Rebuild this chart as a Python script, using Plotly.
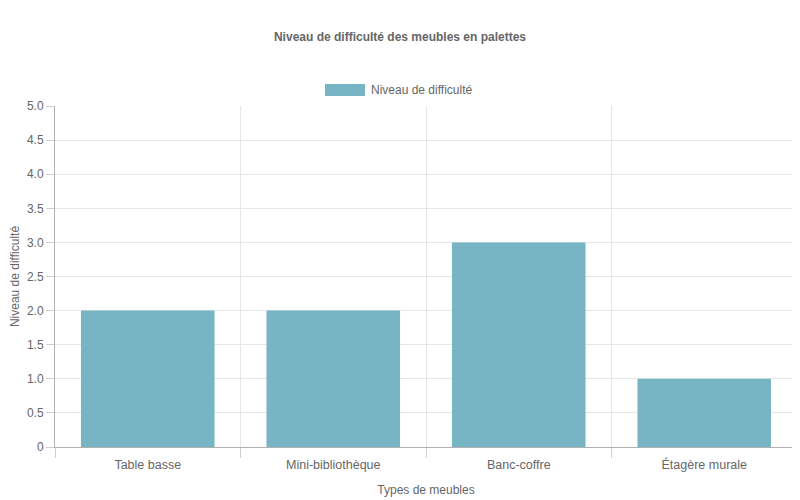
import plotly.graph_objects as go

# data
categories = ["Table basse", "Mini-bibliothèque", "Banc-coffre", "Étagère murale"]
difficulty = [2, 2, 3, 1]
y_ticks = [0, 0.5, 1.0, 1.5, 2.0, 2.5, 3.0, 3.5, 4.0, 4.5, 5.0]
y_tick_labels = ["0", "0.5", "1.0", "1.5", "2.0", "2.5", "3.0", "3.5", "4.0", "4.5", "5.0"]

BAR_COLOR = "#77b5c4"
TEXT_COLOR = "#666666"
GRID_COLOR = "#e6e6e6"
FONT = "Liberation Sans, Arial, sans-serif"


def main():
    fig = go.Figure()
    fig.add_trace(go.Bar(
        x=categories,
        y=difficulty,
        name="Niveau de difficulté",
        marker=dict(color=BAR_COLOR, line=dict(width=0)),
        showlegend=False,
    ))

    # legend drawn by hand to get the wide chart-style swatch
    fig.add_shape(type="rect", xref="paper", yref="paper",
                  x0=(325 - 55) / 742, x1=(365 - 55) / 742,
                  y0=(447 - 96) / 341, y1=(447 - 84) / 341,
                  fillcolor=BAR_COLOR, line=dict(width=0))
    fig.add_annotation(text="Niveau de difficulté", xref="paper", yref="paper",
                       x=(369 - 55) / 742, y=(447 - 90) / 341,
                       xanchor="left", yanchor="middle", showarrow=False,
                       font=dict(size=12, color=TEXT_COLOR, family=FONT))

    # page body adds an 8px offset, margins compensate for it
    fig.update_layout(
        width=800, height=500,
        margin=dict(l=47, r=11, t=98, b=61),
        paper_bgcolor="white", plot_bgcolor="white",
        font=dict(family=FONT, size=12, color=TEXT_COLOR),
        title=dict(text="<b>Niveau de difficulté des meubles en palettes</b>",
                   x=(400 - 8) / 800, xanchor="center", y=1 - 29 / 500, yanchor="middle",
                   font=dict(size=12, color=TEXT_COLOR, family=FONT)),
        bargap=0.28,
    )
    fig.update_xaxes(
        type="category", tickson="boundaries", automargin=False,
        showgrid=True, gridcolor=GRID_COLOR, gridwidth=1,
        ticks="outside", ticklen=10, tickcolor="#d0d0d0",
        ticklabelstandoff=6,
        showline=True, linecolor="#b0b0b0", linewidth=1,
        title=dict(text="Types de meubles", standoff=14,
                   font=dict(size=12, color=TEXT_COLOR)),
        tickfont=dict(size=12.5, color=TEXT_COLOR),
    )
    fig.update_yaxes(
        range=[0, 5], tickvals=y_ticks, ticktext=y_tick_labels,
        automargin=False,
        showgrid=True, gridcolor=GRID_COLOR, gridwidth=1,
        zeroline=False,
        ticks="outside", ticklen=8, tickcolor="#d0d0d0",
        showline=True, linecolor="#b0b0b0", linewidth=1,
        title=dict(text="Niveau de difficulté", standoff=10,
                   font=dict(size=12, color=TEXT_COLOR)),
        tickfont=dict(size=12, color=TEXT_COLOR),
    )
    fig.write_html("out.html")


if __name__ == "__main__":
    main()
